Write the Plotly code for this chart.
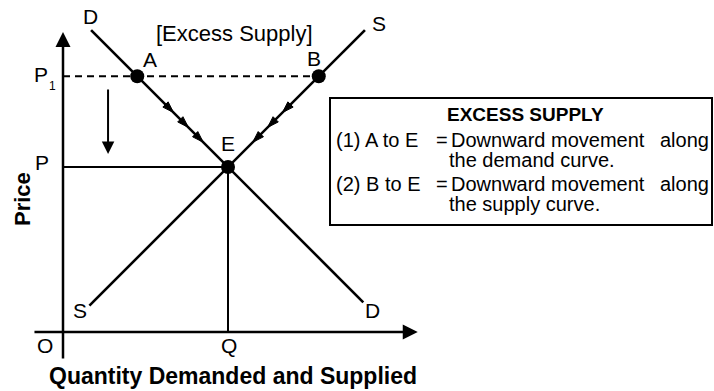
import plotly.graph_objects as go

# ---------------- data (price / quantity units) ----------------
demand_q = [1.7, 18.2]
demand_p = [18.3, 1.8]
supply_q = [1.6, 18.3]
supply_p = [1.6, 18.3]

eq_q, eq_p = 10, 10          # equilibrium E (Q, P)
p1 = 15.5                    # price above equilibrium

point_names = ["A", "B", "E"]
point_q = [4.5, 15.5, 10]
point_p = [15.5, 15.5, 10]

d_arrow_q = [6.7, 7.6, 8.5]      # direction heads on demand curve (A -> E)
d_arrow_p = [13.3, 12.4, 11.5]
s_arrow_q = [13.3, 12.4, 11.5]   # direction heads on supply curve (B -> E)
s_arrow_p = [13.3, 12.4, 11.5]

# ---------------- figure geometry ----------------
W, H = 714, 391
OX, OY, SC = 63, 332, 16.5       # origin pixel and pixels per unit
FONT = "Liberation Sans, Arial, sans-serif"


def paper(px, py):
    return px / W, 1 - py / H


fig = go.Figure()

line_style = dict(color="black", width=2.6)
fig.add_trace(go.Scatter(x=demand_q, y=demand_p, mode="lines", line=line_style, hoverinfo="skip"))
fig.add_trace(go.Scatter(x=supply_q, y=supply_p, mode="lines", line=line_style, hoverinfo="skip"))

# P1 dashed line to B
fig.add_trace(go.Scatter(x=[0, point_q[1]], y=[p1, p1], mode="lines",
                         line=dict(color="black", width=2, dash="7px,5px"), hoverinfo="skip"))
# equilibrium guides
fig.add_trace(go.Scatter(x=[0, eq_q], y=[eq_p, eq_p], mode="lines",
                         line=dict(color="black", width=2), hoverinfo="skip"))
fig.add_trace(go.Scatter(x=[eq_q, eq_q], y=[0, eq_p], mode="lines",
                         line=dict(color="black", width=2), hoverinfo="skip"))

# direction arrowheads
fig.add_trace(go.Scatter(x=d_arrow_q, y=d_arrow_p, mode="markers",
                         marker=dict(symbol="arrow", size=12, angle=135, color="black",
                                     line=dict(width=1, color="black")), hoverinfo="skip"))
fig.add_trace(go.Scatter(x=s_arrow_q, y=s_arrow_p, mode="markers",
                         marker=dict(symbol="arrow", size=12, angle=225, color="black",
                                     line=dict(width=1, color="black")), hoverinfo="skip"))

# points A, B, E
fig.add_trace(go.Scatter(x=point_q, y=point_p, mode="markers",
                         marker=dict(symbol="circle", size=14, color="black"), hoverinfo="skip"))

annotations = []

# axes with arrows
annotations.append(dict(x=0, y=18.18, ax=0, ay=-1.7, xref="x", yref="y", axref="x", ayref="y",
                        text="", showarrow=True, arrowhead=2, arrowwidth=2.5, arrowsize=1.2,
                        arrowcolor="black", standoff=0))
annotations.append(dict(x=21.5, y=0, ax=-1.82, ay=0, xref="x", yref="y", axref="x", ayref="y",
                        text="", showarrow=True, arrowhead=2, arrowwidth=2.5, arrowsize=1.2,
                        arrowcolor="black", standoff=0))
# downward price arrow
annotations.append(dict(x=2.73, y=10.79, ax=2.73, ay=14.79, xref="x", yref="y", axref="x", ayref="y",
                        text="", showarrow=True, arrowhead=2, arrowwidth=2, arrowsize=1.25,
                        arrowcolor="black", standoff=0))


def label(text, px, py, size=21, bold=False, xanchor="center", angle=0):
    x, y = paper(px, py)
    t = "<b>%s</b>" % text if bold else text
    annotations.append(dict(x=x, y=y, xref="paper", yref="paper", text=t, showarrow=False,
                            xanchor=xanchor, yanchor="middle", borderpad=0, textangle=angle,
                            font=dict(family=FONT, size=size, color="black")))


label("D", 90, 16)
label("[Excess Supply]", 234, 33, size=22)
label("A", 150, 60)
label("B", 314, 58)
label("S", 379, 23)
label("E", 228, 143)
label("S", 80, 310)
label("D", 372, 310)
label("O", 45, 345)
label("Q", 229, 345)
label("P", 42, 163)
label("P", 41, 75)
label("1", 52, 86, size=12)
label("Price", 22, 199, size=22, bold=True, angle=-90)
label("Quantity Demanded and Supplied", 233, 376, size=23, bold=True)

# explanation box
label("EXCESS SUPPLY", 525, 114, size=19, bold=True)
label("(1) A to E", 335, 140, size=20, xanchor="left")
label("=", 442, 140, size=20)
label("Downward movement", 450, 140, size=20, xanchor="left")
label("along", 710, 140, size=20, xanchor="right")
label("the demand curve.", 448, 160, size=20, xanchor="left")
label("(2) B to E", 335, 184, size=20, xanchor="left")
label("=", 442, 184, size=20)
label("Downward movement", 450, 184, size=20, xanchor="left")
label("along", 710, 184, size=20, xanchor="right")
label("the supply curve.", 448, 204, size=20, xanchor="left")

bx0, by1 = paper(330, 98)
bx1, by0 = paper(712, 225)
shapes = [dict(type="rect", xref="paper", yref="paper", x0=bx0, x1=bx1, y0=by0, y1=by1,
               line=dict(color="black", width=2), fillcolor="rgba(0,0,0,0)")]

fig.update_layout(
    width=W, height=H,
    margin=dict(l=0, r=0, t=0, b=0, pad=0),
    paper_bgcolor="white", plot_bgcolor="white",
    showlegend=False,
    xaxis=dict(range=[-OX / SC, (W - OX) / SC], visible=False, fixedrange=True),
    yaxis=dict(range=[(OY - H) / SC, OY / SC], visible=False, fixedrange=True),
    annotations=annotations,
    shapes=shapes,
)

fig.write_html("out.html", config={"displayModeBar": False},
               post_script="document.body.style.margin='0';document.body.style.overflow='hidden';")
